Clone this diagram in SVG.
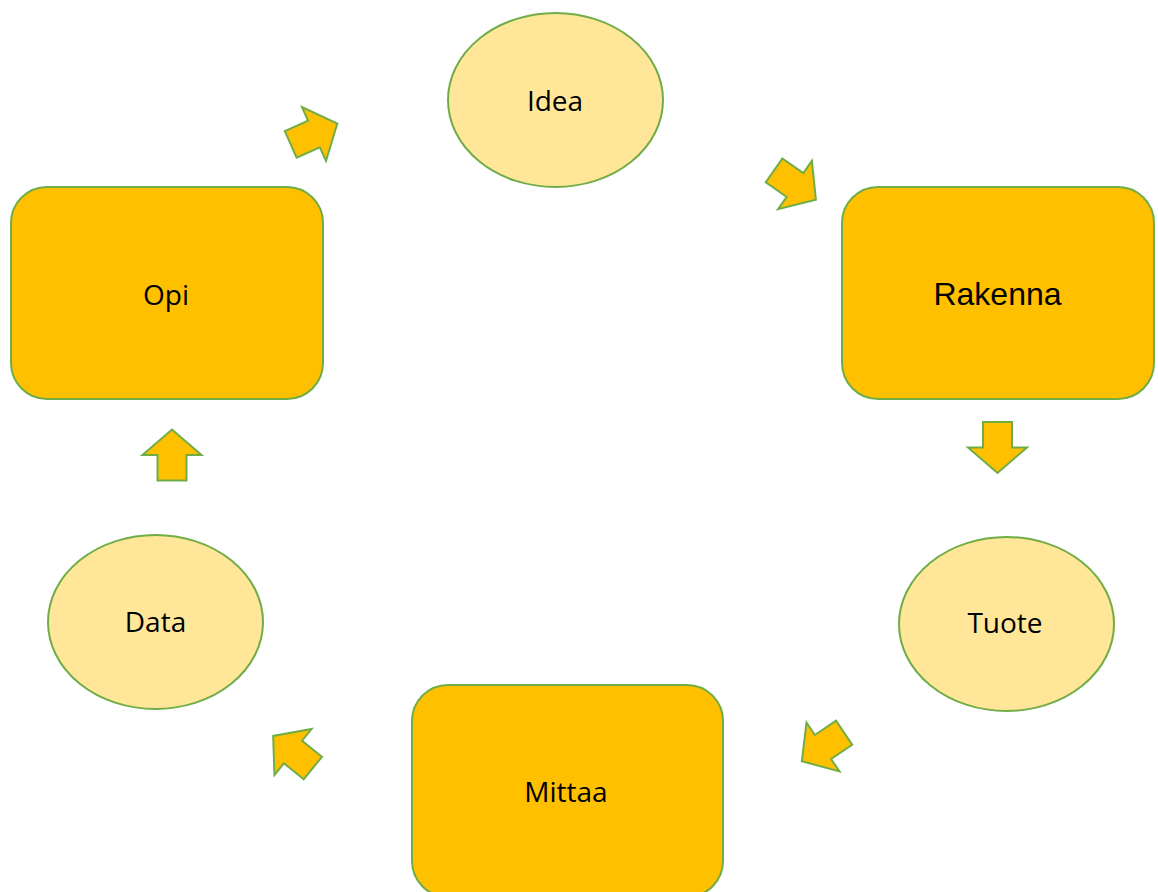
<svg xmlns="http://www.w3.org/2000/svg" width="1158" height="892" viewBox="0 0 1158 892">
<defs>
<style>
.box{fill:#FFC000;stroke:#70AD47;stroke-width:2}
.ell{fill:#FFE699;stroke:#70AD47;stroke-width:2}
.arr{fill:#FFC000;stroke:#70AD47;stroke-width:2;stroke-linejoin:miter}
.t{font-family:"Open Sans","Liberation Sans",sans-serif;font-size:28px;fill:#000;text-anchor:middle}
.t2{font-family:"Liberation Sans",Arial,sans-serif;font-size:32px;fill:#000;text-anchor:middle}
</style>
<polygon id="a" points="-25.5,-14.5 0,-14.5 0,-29.5 25.5,0 0,29.5 0,14.5 -25.5,14.5"/>
</defs>
<rect width="1158" height="892" fill="#fff"/>
<g id="idea"><ellipse class="ell" cx="555.5" cy="100" rx="107.5" ry="87"/><text class="t" x="555" y="111">Idea</text></g>
<g id="rakenna"><rect class="box" x="842" y="187" width="312" height="212" rx="36"/><text class="t2" x="997.5" y="305">Rakenna</text></g>
<g id="tuote"><ellipse class="ell" cx="1006.5" cy="624" rx="107.5" ry="87"/><text class="t" x="1005" y="633">Tuote</text></g>
<g id="mittaa"><rect class="box" x="412" y="685" width="311" height="212" rx="36"/><text class="t" x="566" y="802">Mittaa</text></g>
<g id="data"><ellipse class="ell" cx="155.5" cy="622" rx="107.5" ry="87"/><text class="t" x="155.5" y="632">Data</text></g>
<g id="opi"><rect class="box" x="11" y="187" width="312" height="212" rx="36"/><text class="t" x="166" y="305">Opi</text></g>
<g id="connectors">
<use href="#a" class="arr" transform="translate(314,134) rotate(-24)"/>
<use href="#a" class="arr" transform="translate(795,185) rotate(35)"/>
<use href="#a" class="arr" transform="translate(997.5,447.5) rotate(90)"/>
<use href="#a" class="arr" transform="translate(823,747) rotate(146)"/>
<use href="#a" class="arr" transform="translate(293,752) rotate(-141)"/>
<use href="#a" class="arr" transform="translate(172,455) rotate(-90)"/>
</g>
</svg>
